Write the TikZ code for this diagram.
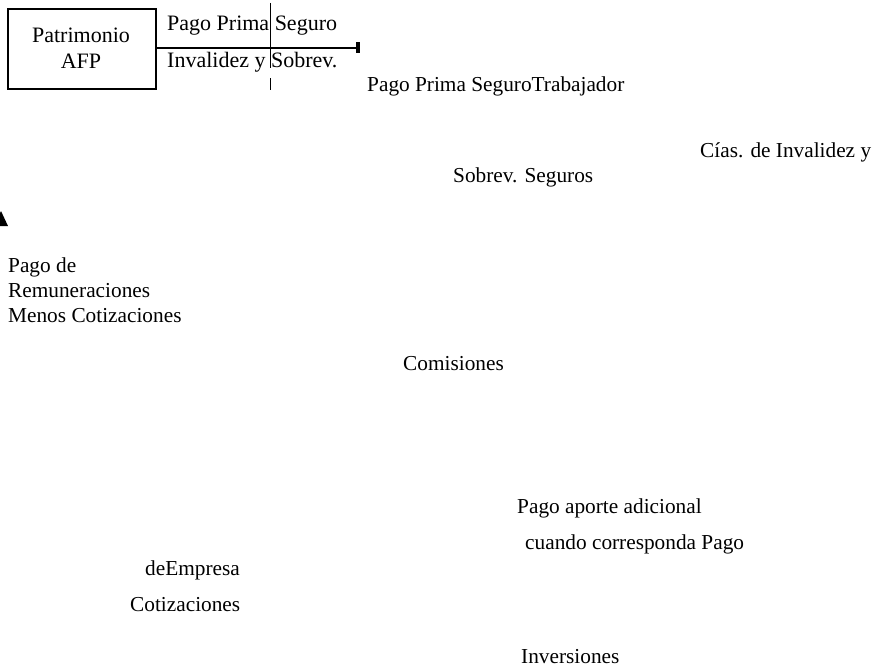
\documentclass[tikz,border=0pt]{standalone}
\usepackage{fontspec}
\setmainfont{Liberation Serif}
\usetikzlibrary{arrows.meta}
\begin{document}
\begin{tikzpicture}[x=1pt,y=-1pt,
  lbl/.style={anchor=west,inner sep=0pt,font=\fontsize{21.3}{25}\selectfont,align=left},
  boxtxt/.style={inner sep=0pt,font=\fontsize{22}{26}\selectfont},
  rule/.style={line width=1.2pt,black}]
\useasboundingbox (0,0) rectangle (872,669);

% AFP fund box and the insurance premium flow leaving it
\node[draw,rule,minimum width=148pt,minimum height=80pt,inner sep=0pt] (afp) at (82,49) {};
\node[boxtxt] (afpa) at (81,35) {Patrimonio};
\node[boxtxt] (afpb) at (81,61) {AFP};
\coordinate (flowend) at (360,48);
\draw[rule,-{Rectangle[length=4pt,width=11pt]}] (afp.east |- flowend) -- (flowend);
\node[boxtxt,anchor=west] (prima1) at (167,26) {Pago Prima Seguro};
\node[boxtxt,anchor=west] (prima2) at (167,62) {Invalidez y Sobrev.};
\coordinate (vt) at (270.5,3);
\coordinate (vm1) at (270.5,68);
\coordinate (vm2) at (270.5,78);
\coordinate (vb) at (270.5,90);
\draw[rule,line width=0.9pt] (vt) -- (vm1);
\draw[rule,line width=0.9pt] (vm2) -- (vb);

% arrow head at the left edge
\fill (-6,226) -- (1,211) -- (8,226) -- cycle;

% flow labels
\node[lbl] (trab) at (367,86) {Pago Prima SeguroTrabajador};
\node[lbl] (cias) at (700,152) {Cías. de Invalidez y};
\node[lbl] (sobrev) at (453,177) {Sobrev. Seguros};
\node[lbl] (remun) at (8,290) {Pago de\\Remuneraciones\\Menos Cotizaciones};
\node[lbl] (comis) at (403,364) {Comisiones};
\node[lbl] (aporte) at (517,508) {Pago aporte adicional};
\node[lbl] (cuando) at (525,544) {cuando corresponda Pago};
\node[lbl] (empresa) at (145,570) {deEmpresa};
\node[lbl] (cotiz) at (130,605) {Cotizaciones};
\node[lbl] (inver) at (521,657) {Inversiones};
\end{tikzpicture}
\end{document}
